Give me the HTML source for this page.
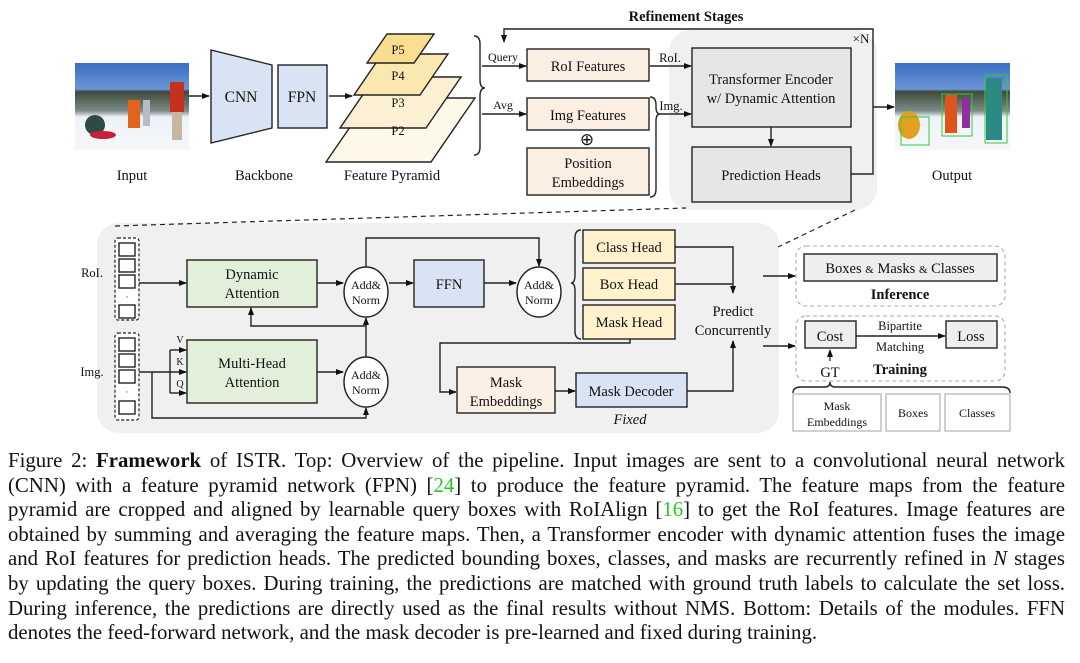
<!DOCTYPE html>
<html><head><meta charset="utf-8"><style>
html,body{margin:0;padding:0;background:#fff;}
body{width:1080px;height:663px;position:relative;overflow:hidden;font-family:"Liberation Serif",serif;}
.cap{position:absolute;left:8px;width:1057px;font-size:20.8px;line-height:22px;color:#111;text-align:justify;text-align-last:justify;white-space:nowrap;}
.cap.last{text-align-last:left;}
svg text{font-family:"Liberation Serif",serif;fill:#111;}
</style></head><body>
<svg width="1080" height="445" style="position:absolute;left:0;top:0" xmlns="http://www.w3.org/2000/svg">
<defs>
<marker id="a" markerWidth="8" markerHeight="8" refX="7" refY="4" orient="auto" markerUnits="userSpaceOnUse"><path d="M0,1 L8,4 L0,7 z" fill="#111"/></marker>
<linearGradient id="sky" x1="0" y1="0" x2="0" y2="1"><stop offset="0" stop-color="#3a6fc4"/><stop offset="0.3" stop-color="#6d95d6"/><stop offset="0.33" stop-color="#3e4a3a"/><stop offset="0.55" stop-color="#7d8c88"/><stop offset="0.62" stop-color="#eef2f8"/><stop offset="1" stop-color="#f5f7fb"/></linearGradient>
</defs>
<g stroke="#222" stroke-width="1.4" fill="none">
<rect x="669" y="30" width="208" height="180" rx="22" fill="#f0f0f0" stroke="none"/>
<rect x="97" y="223" width="682" height="210" rx="22" fill="#f0f0f0" stroke="none"/>
<rect x="75" y="63" width="114" height="87" fill="url(#sky)" stroke="none"/>
<ellipse cx="95" cy="125" rx="10" ry="10" fill="#2f4a44" stroke="none"/>
<ellipse cx="103" cy="135" rx="13" ry="4" fill="#c8203a" stroke="none"/>
<rect x="128" y="100" width="12" height="28" fill="#e0641c" stroke="none"/>
<rect x="143" y="100" width="7" height="26" fill="#b8bcc4" stroke="none"/>
<rect x="170" y="82" width="14" height="30" fill="#c8301e" stroke="none"/>
<rect x="172" y="112" width="10" height="28" fill="#c6b8a0" stroke="none"/>
<rect x="895" y="63" width="115" height="87" fill="url(#sky)" stroke="none"/>
<ellipse cx="909" cy="125" rx="11" ry="14" fill="#e0a020" stroke="none"/>
<rect x="945" y="95" width="12" height="38" fill="#e0541c" stroke="none"/>
<rect x="962" y="98" width="8" height="30" fill="#9030a0" stroke="none"/>
<rect x="986" y="78" width="16" height="62" fill="#2c8a84" stroke="none"/>
<rect x="901" y="117" width="28" height="28" stroke="#3c3" stroke-width="1"/>
<rect x="942" y="94" width="30" height="42" stroke="#3c3" stroke-width="1"/>
<rect x="985" y="75" width="22" height="68" stroke="#3c3" stroke-width="1"/>
<line x1="189" y1="96" x2="209" y2="96" marker-end="url(#a)"/>
<polygon points="211,50 272,65 272,128 211,143" fill="#dae3f3"/>
<rect x="278" y="65" width="49" height="63" fill="#dae3f3"/>
<line x1="329" y1="96" x2="352" y2="96" marker-end="url(#a)"/>
<polygon points="370,98 475,98 431,162 326,162" fill="#fdf8e8"/>
<polygon points="375,77 461,77 426,128 340,128" fill="#fcf0d4"/>
<polygon points="382,54 448,54 420,95 354,95" fill="#fbe7b0"/>
<polygon points="387,34 434,34 414,63 367,63" fill="#fadd8e"/>
<path d="M474,36 q6,0 6,8 v36 q0,8 5,8 q-5,0 -5,8 v51 q0,8 -6,8"/>
<line x1="482" y1="66" x2="526" y2="66" marker-end="url(#a)"/>
<line x1="482" y1="114" x2="526" y2="114" marker-end="url(#a)"/>
<rect x="527" y="49" width="122" height="32" fill="#fbefe4"/>
<rect x="527" y="98" width="122" height="32" fill="#fbefe4"/>
<rect x="527" y="148" width="122" height="47" fill="#fbefe4"/>
<path d="M650,97 q6,0 6,8 v2 q0,7 4,7 q-4,0 -4,7 v68 q0,8 -6,8"/>
<line x1="650" y1="66" x2="691" y2="66" marker-end="url(#a)"/>
<line x1="660" y1="114" x2="691" y2="114" marker-end="url(#a)"/>
<rect x="692" y="48" width="159" height="79" fill="#e6e6e6"/>
<line x1="771" y1="127" x2="771" y2="146" marker-end="url(#a)"/>
<rect x="692" y="147" width="159" height="55" fill="#e6e6e6"/>
<path d="M851,174 H873 V29 H504 V42" marker-end="url(#a)"/>
<line x1="873" y1="107" x2="894" y2="107" marker-end="url(#a)"/>
<line x1="115" y1="226" x2="686" y2="208" stroke-dasharray="5,4" stroke-width="1.2"/>
<line x1="855" y1="210" x2="778" y2="247" stroke-dasharray="5,4" stroke-width="1.2"/>
<rect x="115" y="238" width="24" height="82" rx="3" fill="#fff" stroke-dasharray="3,2" stroke-width="1.2"/>
<rect x="119" y="243" width="16" height="13" fill="#fff"/><rect x="119" y="259" width="16" height="13" fill="#fff"/><rect x="119" y="275" width="16" height="13" fill="#fff"/><rect x="119" y="305" width="16" height="13" fill="#fff"/>
<rect x="115" y="333" width="24" height="87" rx="3" fill="#fff" stroke-dasharray="3,2" stroke-width="1.2"/>
<rect x="119" y="338" width="16" height="13" fill="#fff"/><rect x="119" y="354" width="16" height="13" fill="#fff"/><rect x="119" y="370" width="16" height="13" fill="#fff"/><rect x="119" y="401" width="16" height="13" fill="#fff"/>
<line x1="139" y1="283" x2="186" y2="283" marker-end="url(#a)"/>
<rect x="187" y="260" width="130" height="47" fill="#e2efda"/>
<rect x="187" y="340" width="130" height="63" fill="#e2efda"/>
<line x1="317" y1="283" x2="343" y2="283" marker-end="url(#a)"/>
<ellipse cx="366" cy="292" rx="22" ry="25" fill="#fff"/>
<rect x="414" y="260" width="70" height="47" fill="#dae3f3"/>
<line x1="389" y1="283" x2="413" y2="283" marker-end="url(#a)"/>
<line x1="484" y1="283" x2="516" y2="283" marker-end="url(#a)"/>
<ellipse cx="539" cy="292" rx="22" ry="25" fill="#fff"/>
<path d="M366,267 V238 H539 V266" marker-end="url(#a)"/>
<path d="M366,357 V318" marker-end="url(#a)"/>
<path d="M366,326 H251 V308" marker-end="url(#a)"/>
<ellipse cx="366" cy="382" rx="22" ry="25" fill="#fff"/>
<line x1="317" y1="372" x2="343" y2="372" marker-end="url(#a)"/>
<path d="M139,372 H186" marker-end="url(#a)"/>
<path d="M170,350 V393"/>
<line x1="170" y1="350" x2="186" y2="350" marker-end="url(#a)"/>
<line x1="170" y1="393" x2="186" y2="393" marker-end="url(#a)"/>
<path d="M152,372 V418 H366 V408" marker-end="url(#a)"/>
<path d="M581,230 q-6,0 -6,8 v37 q0,8 -4,8 q4,0 4,8 v40 q0,8 6,8"/>
<rect x="583" y="230" width="92" height="33" fill="#fff2cc"/>
<rect x="583" y="268" width="92" height="32" fill="#fff2cc"/>
<rect x="583" y="305" width="92" height="34" fill="#fff2cc"/>
<path d="M675,247 H733 V293" marker-end="url(#a)"/>
<path d="M675,284 H733"/>
<path d="M630,339 V343 H440 V392 H456" marker-end="url(#a)"/>
<rect x="457" y="367" width="98" height="46" fill="#fbf0e6"/>
<line x1="555" y1="391" x2="575" y2="391" marker-end="url(#a)"/>
<rect x="576" y="373" width="111" height="34" fill="#dae3f3"/>
<path d="M687,391 H733 V341" marker-end="url(#a)"/>
<line x1="763" y1="276" x2="795" y2="276" marker-end="url(#a)"/>
<line x1="763" y1="346" x2="795" y2="346" marker-end="url(#a)"/>
<rect x="796" y="246" width="209" height="60" rx="10" stroke="#aaa" stroke-dasharray="4,3" stroke-width="1.1"/>
<rect x="796" y="316" width="209" height="65" rx="10" stroke="#aaa" stroke-dasharray="4,3" stroke-width="1.1"/>
<rect x="804" y="254" width="193" height="27" fill="#eeeeee"/>
<rect x="805" y="321" width="51" height="27" fill="#eeeeee"/>
<rect x="946" y="321" width="51" height="27" fill="#eeeeee"/>
<line x1="856" y1="336" x2="945" y2="336" marker-end="url(#a)"/>
<line x1="830" y1="361" x2="830" y2="350" marker-end="url(#a)" stroke-width="1.2"/>
<path d="M793,393 q0,-6 8,-6 h24 q5,0 5,-5 q0,5 5,5 h167 q8,0 8,6"/>
<rect x="793" y="394" width="88" height="37" stroke="#bbb"/>
<rect x="886" y="394" width="54" height="37" stroke="#bbb"/>
<rect x="945" y="394" width="65" height="37" stroke="#bbb"/>
</g>
<g font-size="14.5" text-anchor="middle">
<text x="132" y="180">Input</text>
<text x="264" y="180">Backbone</text>
<text x="392" y="180">Feature Pyramid</text>
<text x="952" y="180">Output</text>
<text x="241" y="102" font-size="15.5">CNN</text>
<text x="302" y="102" font-size="15.5">FPN</text>
<text x="398" y="54" font-size="12.5">P5</text>
<text x="398" y="80" font-size="12.5">P4</text>
<text x="398" y="107" font-size="12.5">P3</text>
<text x="398" y="135" font-size="12.5">P2</text>
<text x="686" y="21" font-weight="bold">Refinement Stages</text>
<text x="503" y="61" font-size="12">Query</text>
<text x="503" y="109" font-size="12">Avg</text>
<text x="588" y="71">RoI Features</text>
<text x="588" y="120">Img Features</text>
<text x="587" y="145" font-size="17">⊕</text>
<text x="588" y="168">Position</text>
<text x="588" y="187">Embeddings</text>
<text x="670" y="62" font-size="12.5">RoI.</text>
<text x="671" y="110" font-size="12.5">Img.</text>
<text x="771" y="84">Transformer Encoder</text>
<text x="771" y="103">w/ Dynamic Attention</text>
<text x="771" y="180">Prediction Heads</text>
<text x="861" y="43" font-size="13">×N</text>
<text x="92" y="277" font-size="12.5">RoI.</text>
<text x="92" y="376" font-size="12.5">Img.</text>
<text x="127" y="300" font-size="9">·</text><text x="127" y="395" font-size="9">·</text>
<text x="252" y="279">Dynamic</text>
<text x="252" y="298">Attention</text>
<text x="252" y="368">Multi-Head</text>
<text x="252" y="387">Attention</text>
<text x="180" y="343" font-size="10">V</text>
<text x="180" y="365" font-size="10">K</text>
<text x="180" y="387" font-size="10">Q</text>
<g font-size="12"><text x="366" y="289">Add&amp;</text><text x="366" y="304">Norm</text>
<text x="539" y="289">Add&amp;</text><text x="539" y="304">Norm</text>
<text x="366" y="379">Add&amp;</text><text x="366" y="394">Norm</text></g>
<text x="449" y="289">FFN</text>
<text x="629" y="252">Class Head</text>
<text x="629" y="289">Box Head</text>
<text x="629" y="327">Mask Head</text>
<text x="733" y="316">Predict</text>
<text x="733" y="335">Concurrently</text>
<text x="506" y="387">Mask</text>
<text x="506" y="406">Embeddings</text>
<text x="631" y="396">Mask Decoder</text>
<text x="630" y="424" font-style="italic">Fixed</text>
<text x="900" y="273">Boxes <tspan font-size="11">&amp;</tspan> Masks <tspan font-size="11">&amp;</tspan> Classes</text>
<text x="900" y="299" font-weight="bold">Inference</text>
<text x="830" y="341">Cost</text>
<text x="971" y="341">Loss</text>
<text x="900" y="330" font-size="12.5">Bipartite</text>
<text x="900" y="351" font-size="12.5">Matching</text>
<text x="830" y="377">GT</text>
<text x="900" y="374" font-weight="bold">Training</text>
<text x="837" y="410" font-size="12">Mask</text>
<text x="837" y="426" font-size="12">Embeddings</text>
<text x="913" y="417" font-size="12">Boxes</text>
<text x="977" y="417" font-size="12">Classes</text>
</g>
</svg>
<div class="cap" style="top:450px">Figure 2: <b>Framework</b> of ISTR. Top: Overview of the pipeline. Input images are sent to a convolutional neural network</div>
<div class="cap" style="top:474.6px">(CNN) with a feature pyramid network (FPN) [<span style="color:#2c2">24</span>] to produce the feature pyramid. The feature maps from the feature</div>
<div class="cap" style="top:499.2px">pyramid are cropped and aligned by learnable query boxes with RoIAlign [<span style="color:#2c2">16</span>] to get the RoI features. Image features are</div>
<div class="cap" style="top:523.8px">obtained by summing and averaging the feature maps. Then, a Transformer encoder with dynamic attention fuses the image</div>
<div class="cap" style="top:548.4px">and RoI features for prediction heads. The predicted bounding boxes, classes, and masks are recurrently refined in <i>N</i> stages</div>
<div class="cap" style="top:573px">by updating the query boxes. During training, the predictions are matched with ground truth labels to calculate the set loss.</div>
<div class="cap" style="top:597.6px">During inference, the predictions are directly used as the final results without NMS. Bottom: Details of the modules. FFN</div>
<div class="cap last" style="top:622.2px">denotes the feed-forward network, and the mask decoder is pre-learned and fixed during training.</div>
</body></html>
